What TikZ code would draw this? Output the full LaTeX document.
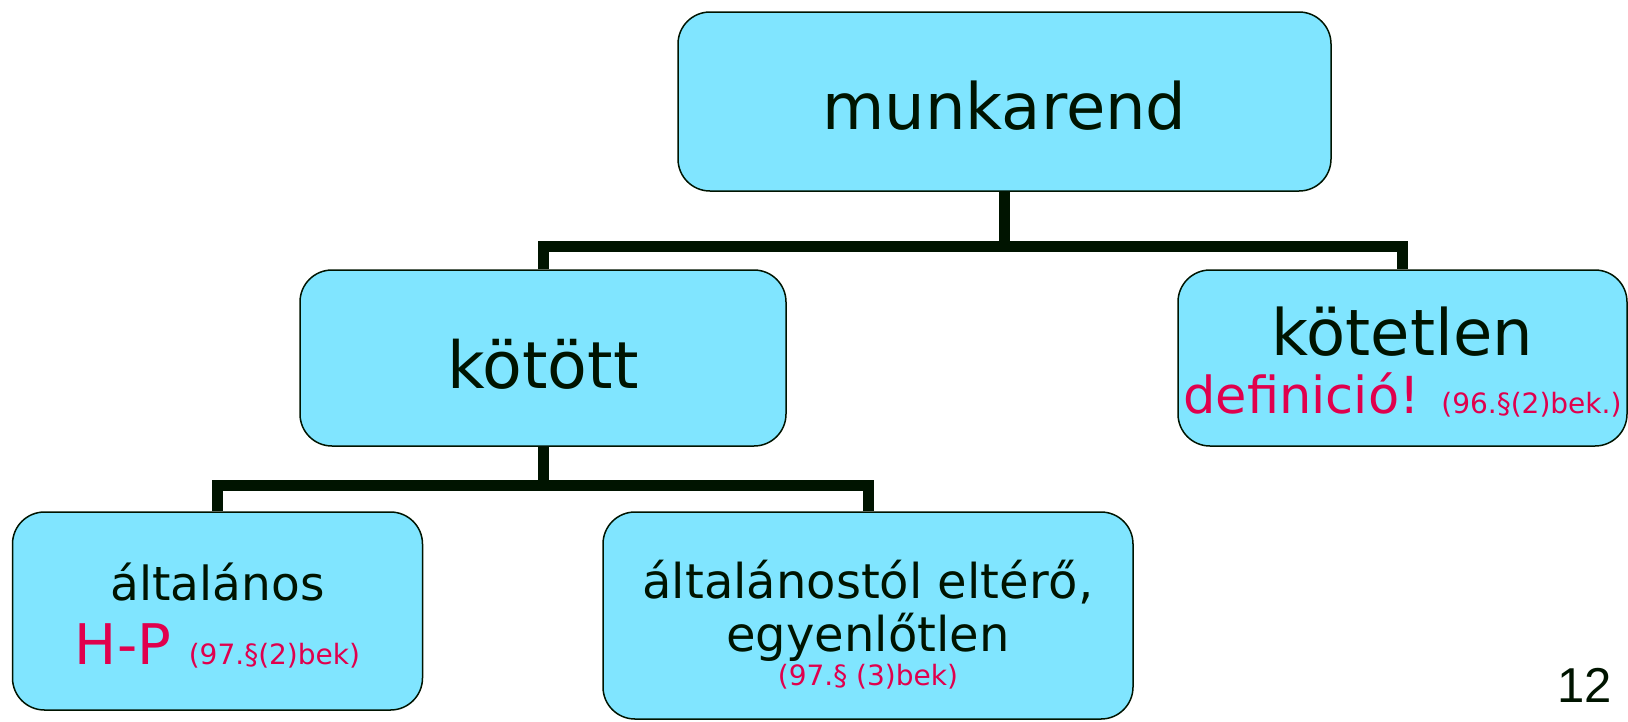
\documentclass[tikz,border=0pt]{standalone}
\usepackage{fontspec}
\setmainfont{DejaVu Sans}
\newfontfamily\numfont{Liberation Sans}
\definecolor{boxfill}{RGB}{128,229,255}
\definecolor{lawred}{RGB}{224,0,77}
\definecolor{linkdark}{RGB}{0,20,0}

\begin{document}
\begin{tikzpicture}[x=1pt,y=-1pt,
  box/.style={draw=linkdark, line width=1.5pt, fill=boxfill, rounded corners=32pt,
              inner sep=0pt, align=center, text=linkdark},
  link/.style={draw=linkdark, line width=11pt},
]
\useasboundingbox (0,0) rectangle (1628,721);

% tree levels
\coordinate (bar1) at (0,246);
\coordinate (bar2) at (0,485);

% boxes (text height/depth place the last baseline inside each box)
\node[box, minimum width=653pt, minimum height=179pt, text height=66.6pt, text depth=10pt,
      font=\fontsize{64}{70}\selectfont] (top) at (1004.5,101.5) {munkarend};

\node[box, minimum width=486pt, minimum height=176pt, text height=70.6pt, text depth=10pt,
      font=\fontsize{65}{70}\selectfont] (kotott) at (543,358) {kötött};

\node[box, minimum width=449pt, minimum height=176pt, text height=120.4pt, text depth=10pt,
      font=\fontsize{64}{58}\selectfont] (kotetlen) at (1402.5,358)
  {kötetlen\\{\color{lawred}\fontsize{51}{58}\selectfont definició! {\fontsize{28}{30}\selectfont (96.§(2)bek.)}}};

\node[box, minimum width=410pt, minimum height=198pt, text height=117pt, text depth=10pt,
      font=\fontsize{47}{64}\selectfont] (altalanos) at (217.5,611)
  {általános\\{\color{lawred}\fontsize{56}{64}\selectfont H-P {\fontsize{28}{30}\selectfont (97.§(2)bek)}}};

\node[box, minimum width=530pt, minimum height=207pt, text height=149.6pt, text depth=10pt,
      font=\fontsize{48}{53}\selectfont] (elteres) at (868,615.5)
  {általánostól eltérő,\\egyenlőtlen\\[-19pt]{\color{lawred}\fontsize{28}{30}\selectfont (97.§ (3)bek)}};

% page number
\node[anchor=base, inner sep=0pt, text=linkdark, font=\numfont\fontsize{49}{55}\selectfont]
  (pagenum) at (1584.5,702) {12};

% connectors
\draw[link] (top.south) -- (top.south |- bar1);
\draw[link] (kotott.north) |- (kotetlen.north |- bar1) -- (kotetlen.north);
\draw[link] (kotott.south) -- (kotott.south |- bar2);
\draw[link] (altalanos.north) |- (elteres.north |- bar2) -- (elteres.north);
\end{tikzpicture}
\end{document}
